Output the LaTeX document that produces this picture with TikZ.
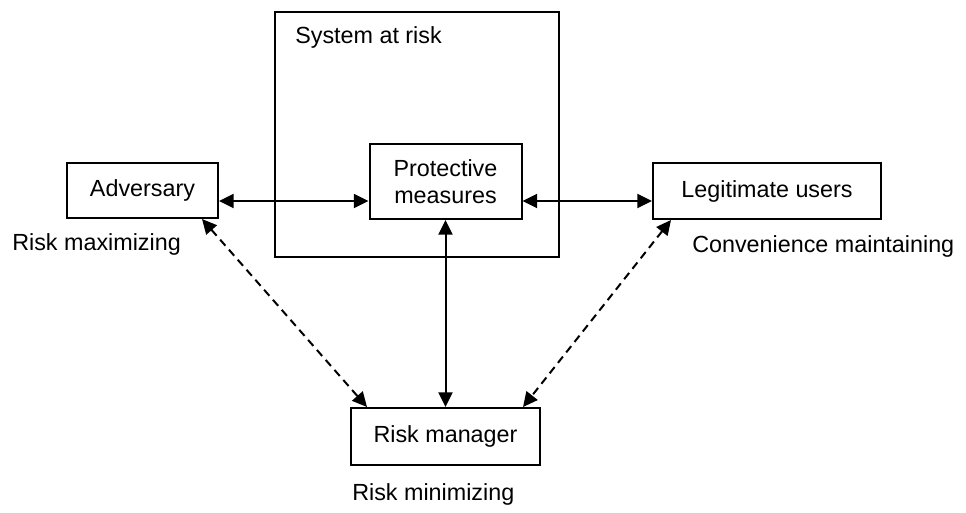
\documentclass[tikz,border=0pt]{standalone}
\usepackage{fontspec}
\setmainfont{Liberation Sans}
\usetikzlibrary{arrows.meta, positioning}

\begin{document}
\begin{tikzpicture}[
  x=0.75pt, y=-0.75pt,
  box/.style={draw, line width=1.5pt, align=center, inner sep=0pt,
              font=\fontsize{17.5}{20.25}\selectfont},
  frame/.style={draw, line width=1.5pt, inner sep=0pt},
  flow/.style={{Triangle[length=11pt,width=10.5pt]}-{Triangle[length=11pt,width=10.5pt]}, line width=1.5pt},
  side/.style={flow, dash pattern=on 6pt off 4pt},
  lab/.style={inner sep=0pt, anchor=base west, font=\fontsize{17.5}{20.25}\selectfont}
]
\useasboundingbox (0,0) rectangle (966,512);

% the system box and what sits in it
\node[frame, minimum width=213pt, minimum height=184.1pt] (sys) at (416.5,134.25) {};
\node[lab] (sysl) at (295,43) {System at risk};
\node[box, minimum width=114pt, minimum height=56.25pt] (prot) at (445.5,181.5) {Protective\\measures};

\node[box, minimum width=113.25pt, minimum height=41.25pt] (adv) at (142.5,190.5) {Adversary};
\node[box, minimum width=171pt, minimum height=42pt] (leg) at (767,191) {Legitimate users};
\node[box, minimum width=141.75pt, minimum height=42.75pt] (mgr) at (445.5,436.5) {Risk manager};

\node[lab] (advl) at (12,250) {Risk maximizing};
\node[lab] (legl) at (692,252) {Convenience maintaining};
\node[lab] (mgrl) at (352,500) {Risk minimizing};

\coordinate (lev) at (0,201);
\draw[flow] (adv.east |- lev) -- (prot.west |- lev);
\draw[flow] (prot.east |- lev) -- (leg.west |- lev);
\draw[flow] (prot) -- (mgr);

\draw[side] ([shift={(-17,0)}]adv.south east) -- ([shift={(17,0)}]mgr.north west);
\draw[side] ([shift={(19,0)}]leg.south west) -- ([shift={(-18,0)}]mgr.north east);

\end{tikzpicture}
\end{document}
